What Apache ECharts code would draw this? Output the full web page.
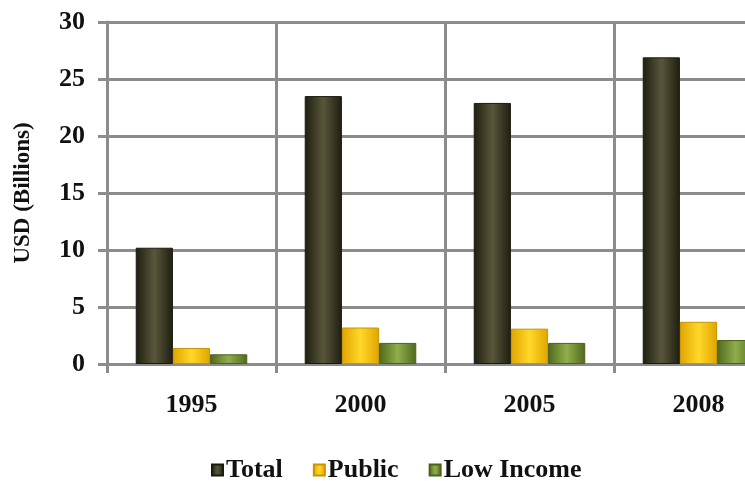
<!DOCTYPE html>
<html><head><meta charset="utf-8">
<script src="https://cdn.jsdelivr.net/npm/echarts@6/dist/echarts.min.js"></script>
<style>html,body{margin:0;padding:0;background:#fff}#c{width:745px;height:481px}</style>
</head><body><div id="c"></div>
<script>
var categories = ['1995', '2000', '2005', '2008'];
var totalValues = [10.2, 23.5, 22.9, 26.9];
var publicValues = [1.4, 3.2, 3.1, 3.7];
var lowIncomeValues = [0.85, 1.85, 1.85, 2.1];
var seriesNames = ['Total', 'Public', 'Low Income'];

function grad(edge, mid) {
  return new echarts.graphic.LinearGradient(0, 0, 1, 0, [
    {offset: 0, color: edge}, {offset: 0.5, color: mid}, {offset: 1, color: edge}
  ]);
}
var font = '"Liberation Serif", "DejaVu Serif", serif';
var chart = echarts.init(document.getElementById('c'), null, {renderer: 'canvas'});
chart.setOption({
  animation: false,
  backgroundColor: '#ffffff',
  color: ['#3c3a26', '#f5c000', '#6f8c2f'],
  grid: {left: 107, top: 22, height: 342, width: 676, containLabel: false, outerBoundsMode: 'none'},
  legend: {
    top: 452, left: 206,
    icon: 'rect', itemWidth: 11, itemHeight: 11, itemGap: 30,
    textStyle: {fontFamily: font, fontWeight: 'bold', fontSize: 26, color: '#111', padding: [0, 0, 0, -2]},
    data: seriesNames
  },
  xAxis: {
    type: 'category', data: categories,
    axisLine: {lineStyle: {color: '#8c8c8c', width: 3}},
    axisTick: {show: true, length: 9, lineStyle: {color: '#8c8c8c', width: 3}},
    splitLine: {show: true, lineStyle: {color: '#8c8c8c', width: 3}},
    axisLabel: {fontFamily: font, fontWeight: 'bold', fontSize: 26, color: '#111', margin: 28}
  },
  yAxis: {
    type: 'value', min: 0, max: 30, interval: 5,
    name: 'USD (Billions)', nameLocation: 'middle', nameGap: 72,
    nameTextStyle: {fontFamily: font, fontWeight: 'bold', fontSize: 23, color: '#111'},
    axisLine: {show: true, lineStyle: {color: '#8c8c8c', width: 3}},
    axisTick: {show: true, length: 9, lineStyle: {color: '#8c8c8c', width: 3}},
    splitLine: {show: true, lineStyle: {color: '#8c8c8c', width: 3}},
    axisLabel: {fontFamily: font, fontWeight: 'bold', fontSize: 26, color: '#111', margin: 22}
  },
  series: [
    {name: seriesNames[0], type: 'bar', data: totalValues, barGap: '0%', barCategoryGap: '34%',
     itemStyle: {color: grad('#1f1e10', '#58563a'), borderColor: '#1a1a0e', borderWidth: 1}},
    {name: seriesNames[1], type: 'bar', data: publicValues,
     itemStyle: {color: grad('#e0a400', '#ffd829'), borderColor: '#c89400', borderWidth: 1}},
    {name: seriesNames[2], type: 'bar', data: lowIncomeValues,
     itemStyle: {color: grad('#50691c', '#8fae4c'), borderColor: '#4a621a', borderWidth: 1}}
  ]
});
</script></body></html>
